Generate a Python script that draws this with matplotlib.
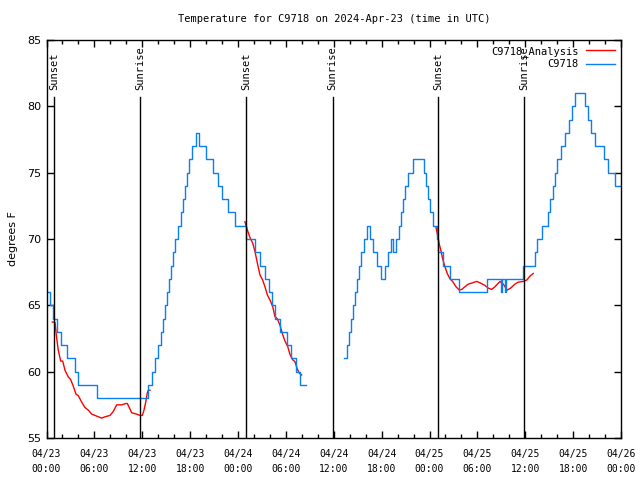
import matplotlib
matplotlib.use("Agg")
import matplotlib.pyplot as plt
import numpy as np

# ---- data (hours since 2024-04-23 00:00 UTC) ----
obs_t1 = [0.19, 0.44, 0.81, 1.32, 1.82, 2.57, 3.57, 3.95, 6.33, 12.72, 13.22, 13.60, 13.97, 14.35,
          14.60, 14.85, 15.10, 15.35, 15.60, 15.85, 16.10, 16.48, 16.86, 17.11, 17.36, 17.61, 17.86,
          18.23, 18.73, 19.11, 19.99, 20.86, 21.49, 21.99, 22.74, 23.62, 24.94, 26.13, 26.75, 27.44,
          27.88, 28.30, 28.63, 29.32, 30.08, 30.64, 31.33, 31.77, 32.48]
obs_v1 = [66, 65, 64, 63, 62, 61, 60, 59, 58, 59, 60, 61, 62, 63,
          64, 65, 66, 67, 68, 69, 70, 71, 72, 73, 74, 75, 76,
          77, 78, 77, 76, 75, 74, 73, 72, 71, 70, 69, 68, 67,
          66, 65, 64, 63, 62, 61, 60, 59, 59]
obs_t2 = [37.28, 37.66, 37.91, 38.16, 38.41, 38.66, 38.91, 39.16, 39.41, 39.79, 40.16, 40.54, 40.91,
          41.42, 41.92, 42.42, 42.79, 43.17, 43.42, 43.80, 44.17, 44.42, 44.67, 44.92, 45.30, 45.93,
          47.31, 47.56, 47.81, 48.06, 48.43, 48.90, 49.10, 49.65, 50.63, 51.69, 55.16, 56.95, 57.12,
          57.46, 57.64, 59.75, 61.22, 61.47, 62.09, 62.84, 63.09, 63.47, 63.72, 63.97, 64.47, 64.97,
          65.48, 65.85, 66.23, 67.48, 67.86, 68.23, 68.73, 69.82, 70.36, 71.20, 72.0]
obs_v2 = [61, 62, 63, 64, 65, 66, 67, 68, 69, 70, 71, 70, 69,
          68, 67, 68, 69, 70, 69, 70, 71, 72, 73, 74, 75, 76,
          75, 74, 73, 72, 71, 70, 69, 68, 67, 66, 67, 66, 67,
          66, 67, 68, 69, 70, 71, 72, 73, 74, 75, 76, 77, 78,
          79, 80, 81, 80, 79, 78, 77, 76, 75, 74, 74]

ana_t1 = [0.73, 1.07, 1.28, 1.48, 1.78, 2.03, 2.32, 2.73, 3.03, 3.36, 3.70, 3.98, 4.41, 4.82, 5.24,
          5.66, 6.08, 6.49, 6.92, 7.33, 7.96, 8.37, 8.80, 9.42, 9.96, 10.13, 10.68, 11.30, 11.72,
          12.01, 12.22, 12.47, 12.63, 12.76, 12.97]
ana_v1 = [63.75, 63.7, 62.5, 61.6, 60.8, 60.8, 60.1, 59.6, 59.4, 58.9, 58.3, 58.2, 57.7, 57.3, 57.1,
          56.8, 56.7, 56.6, 56.5, 56.6, 56.7, 57.0, 57.5, 57.5, 57.6, 57.6, 56.9, 56.8, 56.7,
          56.7, 57.1, 57.8, 58.4, 58.6, 58.6]
ana_t2 = [24.87, 25.16, 25.50, 25.84, 26.13, 26.42, 26.75, 27.09, 27.38, 27.67, 28.01, 28.35, 28.63,
          28.92, 29.26, 29.60, 29.89, 30.23, 30.51, 30.85, 31.14, 31.43, 31.68, 31.98]
ana_v2 = [71.3, 70.7, 70.1, 69.7, 69.05, 68.2, 67.3, 66.9, 66.4, 65.8, 65.4, 64.9, 64.15,
          64.0, 63.5, 62.8, 62.3, 61.9, 61.3, 60.9, 60.75, 60.2, 59.9, 59.75]
ana_t3 = [48.81, 48.97, 49.15, 49.40, 49.65, 49.94, 50.23, 50.56, 50.90, 51.32, 51.73, 52.03, 52.44,
          52.86, 53.41, 53.91, 54.32, 54.95, 55.36, 55.79, 56.20, 56.83, 57.24, 57.74, 58.17, 58.71,
          59.12, 59.75, 60.18, 60.59, 61.00]
ana_v3 = [70.9, 70.4, 69.8, 69.2, 68.5, 67.9, 67.4, 67.0, 66.8, 66.4, 66.15, 66.2, 66.4,
          66.6, 66.7, 66.8, 66.7, 66.5, 66.3, 66.2, 66.4, 66.8, 66.6, 66.15, 66.3, 66.6,
          66.75, 66.8, 66.9, 67.2, 67.4]

sun_t = [1.0, 11.78, 25.0, 35.85, 49.05, 59.9]
sun_lbl = ["Sunset", "Sunrise", "Sunset", "Sunrise", "Sunset", "Sunrise"]

xtick_pos = [0, 6, 12, 18, 24, 30, 36, 42, 48, 54, 60, 66, 72]
xtick_lbl = ["04/23\n00:00", "04/23\n06:00", "04/23\n12:00", "04/23\n18:00",
             "04/24\n00:00", "04/24\n06:00", "04/24\n12:00", "04/24\n18:00",
             "04/25\n00:00", "04/25\n06:00", "04/25\n12:00", "04/25\n18:00",
             "04/26\n00:00"]
ytick_pos = [55, 60, 65, 70, 75, 80, 85]

RED = "#ff0000"
BLUE = "#0a7ff5"
MONO = "DejaVu Sans Mono"

fig = plt.figure(figsize=(6.4, 4.8), dpi=100)
ax = fig.add_axes([46.5 / 640, 1 - 438 / 480, (621 - 46.5) / 640, (438 - 40) / 480])

ax.plot(ana_t1, ana_v1, color=RED, lw=1.0)
ax.plot(ana_t2, ana_v2, color=RED, lw=1.0)
ax.plot(ana_t3, ana_v3, color=RED, lw=1.0, label="C9718_Analysis")
ax.plot(obs_t1, obs_v1, color=BLUE, lw=1.0, drawstyle="steps-post")
ax.plot(obs_t2, obs_v2, color=BLUE, lw=1.0, drawstyle="steps-post", label="C9718")

for t, lbl in zip(sun_t, sun_lbl):
    ax.plot([t, t], [55, 80.7], color="black", lw=1.0)
    ax.text(t, 81.2, lbl, rotation=90, ha="center", va="bottom", fontsize=7.5, family=MONO)

ax.set_xlim(0, 72)
ax.set_ylim(55, 85)
ax.set_xticks(xtick_pos)
ax.set_xticklabels(xtick_lbl, family=MONO, fontsize=7, linespacing=1.55)
ax.set_xticks(np.arange(0, 73, 2), minor=True)
ax.set_yticks(ytick_pos)
ax.set_yticklabels([str(v) for v in ytick_pos], fontsize=8)
ax.tick_params(which="both", direction="in", top=True, right=True, width=1, color="black")
ax.tick_params(which="major", length=5)
ax.tick_params(which="minor", length=3)
ax.tick_params(axis="x", pad=8)
ax.tick_params(axis="y", pad=4)
for s in ax.spines.values():
    s.set_linewidth(1.0)
ax.set_ylabel("degrees F", fontsize=8, labelpad=6)
ax.set_title("Temperature for C9718 on 2024-Apr-23 (time in UTC)", family=MONO, fontsize=7.5, pad=13)

leg = ax.legend(loc="upper right", frameon=False, prop={"family": MONO, "size": 7.5},
                markerfirst=False, handlelength=2.8, borderaxespad=0.15, labelspacing=0.25,
                handletextpad=0.7, bbox_to_anchor=(1.0, 1.0))
for txt in leg.get_texts():
    txt.set_ha("right")

fig.savefig("out.png", dpi=100)
